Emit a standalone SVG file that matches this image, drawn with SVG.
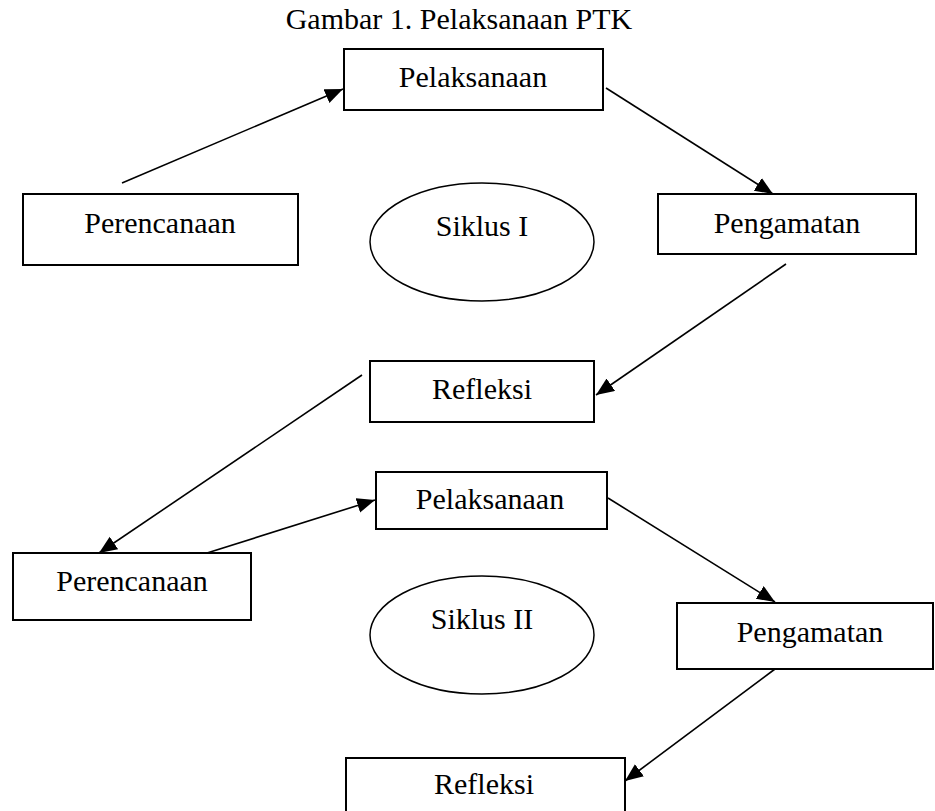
<svg xmlns="http://www.w3.org/2000/svg" width="935" height="811" viewBox="0 0 935 811">
<defs>
<style>
.box{fill:#fff;stroke:#000;stroke-width:2}
.ell{fill:#fff;stroke:#000;stroke-width:1.5}
.t{font-family:"Liberation Serif","Times New Roman",serif;font-size:30px;fill:#000;text-anchor:middle}
.c{fill:none;stroke:#000;stroke-width:1.6}
</style>
<marker id="ah" markerUnits="userSpaceOnUse" markerWidth="19" markerHeight="16" refX="18" refY="7.5" orient="auto">
<path d="M0,0 L18,7.5 L0,15 z" fill="#000"/>
</marker>
</defs>
<rect width="935" height="811" fill="#fff"/>
<text class="t" x="459" y="29">Gambar 1. Pelaksanaan PTK</text>
<g id="connectors">
<line class="c" x1="122" y1="183" x2="343" y2="89" marker-end="url(#ah)"/>
<line class="c" x1="606" y1="88" x2="773" y2="194" marker-end="url(#ah)"/>
<line class="c" x1="786" y1="264" x2="596" y2="395" marker-end="url(#ah)"/>
<line class="c" x1="362" y1="375" x2="99" y2="553" marker-end="url(#ah)"/>
<line class="c" x1="207" y1="553" x2="375" y2="500" marker-end="url(#ah)"/>
<line class="c" x1="608" y1="498" x2="775" y2="602" marker-end="url(#ah)"/>
<line class="c" x1="775" y1="669" x2="625" y2="781" marker-end="url(#ah)"/>
</g>
<g id="pelaksanaan1"><rect class="box" x="344" y="49" width="259" height="61"/><text class="t" x="473" y="87">Pelaksanaan</text></g>
<g id="perencanaan1"><rect class="box" x="23" y="194" width="275" height="71"/><text class="t" x="160" y="233">Perencanaan</text></g>
<g id="siklus1"><ellipse class="ell" cx="482" cy="242" rx="112" ry="59"/><text class="t" x="482" y="236">Siklus I</text></g>
<g id="pengamatan1"><rect class="box" x="658" y="194" width="258" height="60"/><text class="t" x="787" y="233">Pengamatan</text></g>
<g id="refleksi1"><rect class="box" x="370" y="361" width="224" height="61"/><text class="t" x="482" y="399">Refleksi</text></g>
<g id="pelaksanaan2"><rect class="box" x="376" y="472" width="231" height="57"/><text class="t" x="490" y="509">Pelaksanaan</text></g>
<g id="perencanaan2"><rect class="box" x="13" y="553" width="238" height="67"/><text class="t" x="132" y="591">Perencanaan</text></g>
<g id="siklus2"><ellipse class="ell" cx="482" cy="635" rx="112" ry="59"/><text class="t" x="482" y="629">Siklus II</text></g>
<g id="pengamatan2"><rect class="box" x="677" y="603" width="256" height="66"/><text class="t" x="810" y="642">Pengamatan</text></g>
<g id="refleksi2"><rect class="box" x="346" y="758" width="279" height="60"/><text class="t" x="484" y="794">Refleksi</text></g>
</svg>
